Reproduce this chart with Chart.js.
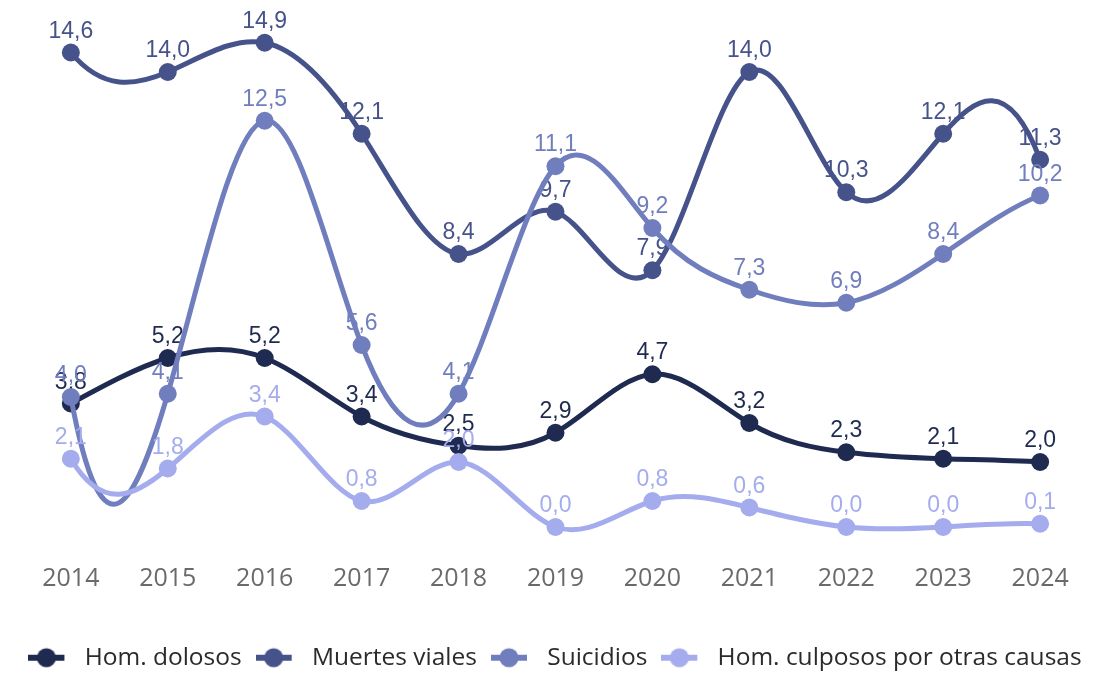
<!DOCTYPE html>
<html>
<head>
<meta charset="utf-8">
<script src="https://cdn.jsdelivr.net/npm/chart.js@4"></script>
<style>
html,body{margin:0;padding:0;background:#fff;}
</style>
</head>
<body>
<canvas id="myChart" width="1110" height="675"></canvas>
<script>
var years=[2014,2015,2016,2017,2018,2019,2020,2021,2022,2023,2024];
var homDolosos=[3.8,5.2,5.2,3.4,2.5,2.9,4.7,3.2,2.3,2.1,2.0];
var muertesViales=[14.6,14.0,14.9,12.1,8.4,9.7,7.9,14.0,10.3,12.1,11.3];
var suicidios=[4.0,4.1,12.5,5.6,4.1,11.1,9.2,7.3,6.9,8.4,10.2];
var homCulposos=[2.1,1.8,3.4,0.8,2.0,0.0,0.8,0.6,0.0,0.0,0.1];
var names=['Hom. dolosos','Muertes viales','Suicidios','Hom. culposos por otras causas'];
var colors=['#1f2a50','#46528a','#707ebe','#a4acee'];

// spline "not-a-knot" -> pendientes en cada punto
function slopes(ys){
    var n=ys.length-1,A=[],b=[],i,j,k;
    for(i=0;i<=n;i++){A.push(new Array(n+1).fill(0));b.push(0);}
    A[0][0]=1;A[0][1]=-2;A[0][2]=1;
    for(i=1;i<n;i++){A[i][i-1]=1;A[i][i]=4;A[i][i+1]=1;b[i]=6*(ys[i+1]-2*ys[i]+ys[i-1]);}
    A[n][n-2]=1;A[n][n-1]=-2;A[n][n]=1;
    for(i=0;i<=n;i++){
        var p=i;
        for(j=i+1;j<=n;j++) if(Math.abs(A[j][i])>Math.abs(A[p][i])) p=j;
        var t=A[i];A[i]=A[p];A[p]=t;t=b[i];b[i]=b[p];b[p]=t;
        for(j=i+1;j<=n;j++){
            var f=A[j][i]/A[i][i];
            for(k=i;k<=n;k++) A[j][k]-=f*A[i][k];
            b[j]-=f*b[i];
        }
    }
    var M=new Array(n+1).fill(0);
    for(i=n;i>=0;i--){
        var s=b[i];
        for(k=i+1;k<=n;k++) s-=A[i][k]*M[k];
        M[i]=s/A[i][i];
    }
    var m=[];
    for(i=0;i<n;i++) m.push((ys[i+1]-ys[i])-(2*M[i]+M[i+1])/6);
    m.push((ys[n]-ys[n-1])+(M[n-1]+2*M[n])/6);
    return m;
}

// marcador de leyenda: linea + circulo
function legendMark(col){
    var c=document.createElement('canvas');
    c.width=44;c.height=22;
    var g=c.getContext('2d');
    g.strokeStyle=col;g.lineWidth=6;
    g.beginPath();g.moveTo(0,11);g.lineTo(36,11);g.stroke();
    g.fillStyle=col;
    g.beginPath();g.arc(18,11,9.5,0,Math.PI*2);g.fill();
    return c;
}
var marks=colors.map(legendMark);

var splineAndLabels={
    id:'splineAndLabels',
    beforeDatasetDraw:function(chart,args){
        var ds=chart.data.datasets[args.index],pts=args.meta.data,ys=ds.data;
        var yScale=chart.scales.y,m=slopes(ys),n=ys.length-1;
        for(var i=0;i<=n;i++){
            var p=pts[i];
            var hp=i>0?p.x-pts[i-1].x:0,hn=i<n?pts[i+1].x-p.x:0;
            p.cp1x=p.x-hp/3;p.cp1y=yScale.getPixelForValue(ys[i]-m[i]/3);
            p.cp2x=p.x+hn/3;p.cp2y=yScale.getPixelForValue(ys[i]+m[i]/3);
        }
        args.meta.dataset._pointsUpdated=true;
        var ctx=chart.ctx;
        ctx.save();
        ctx.font='23px "Liberation Sans", Arial, sans-serif';
        ctx.fillStyle=ds.borderColor;
        ctx.textAlign='center';
        ctx.textBaseline='alphabetic';
        pts.forEach(function(pt,i){
            ctx.fillText(ys[i].toFixed(1).replace('.',','),pt.x,pt.y-15);
        });
        ctx.restore();
    }
};

var series=[homDolosos,muertesViales,suicidios,homCulposos];
var ctx=document.getElementById('myChart').getContext('2d');
var chart=new Chart(ctx,{
    type:'line',
    data:{
        labels:years,
        datasets:series.map(function(d,i){
            return {
                label:names[i],
                data:d,
                borderColor:colors[i],
                backgroundColor:colors[i],
                pointBackgroundColor:colors[i],
                pointBorderWidth:0,
                pointRadius:9,
                borderWidth:5,
                tension:0.4,
                fill:false,
                clip:false,
                order:3-i
            };
        })
    },
    options:{
        responsive:false,
        animation:false,
        layout:{padding:{top:39.5,left:0,right:0,bottom:-5}},
        scales:{
            x:{
                type:'linear',
                min:2013.362,
                max:2024.628,
                grid:{display:false,drawTicks:false},
                border:{display:false},
                afterFit:function(s){s.height=104.5;},
                afterBuildTicks:function(s){s.ticks=years.map(function(v){return {value:v};});},
                ticks:{
                    padding:37,
                    color:'#6a6a6a',
                    maxRotation:0,
                    autoSkip:false,
                    font:{family:'"Open Sans"',size:25},
                    callback:function(v){return Number.isInteger(v)?String(v):'';}
                }
            },
            y:{display:false,min:0,max:15}
        },
        plugins:{
            tooltip:{enabled:false},
            legend:{
                position:'bottom',
                labels:{
                    usePointStyle:true,
                    pointStyleWidth:44,
                    padding:14,
                    color:'#2b2b2b',
                    font:{family:'"Open Sans"',size:24.5},
                    generateLabels:function(chart){
                        return chart.data.datasets.map(function(ds,i){
                            return {text:ds.label,pointStyle:marks[i],fillStyle:ds.borderColor,strokeStyle:ds.borderColor,lineWidth:0,hidden:false,datasetIndex:i,fontColor:'#2b2b2b'};
                        });
                    }
                }
            }
        }
    },
    plugins:[splineAndLabels]
});
</script>
</body>
</html>
